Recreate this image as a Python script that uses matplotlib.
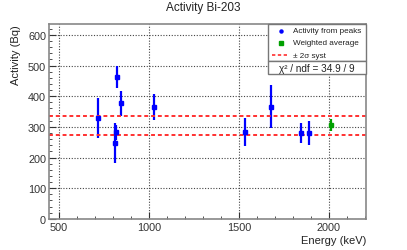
import numpy as np
import matplotlib
matplotlib.use("Agg")
import matplotlib.pyplot as plt
from matplotlib.patches import Rectangle
from matplotlib.lines import Line2D
from matplotlib.ticker import MultipleLocator

plt.rcParams['font.family'] = ['Liberation Sans', 'DejaVu Sans']

# peak activities
energy = [720, 815, 819, 824, 846, 1030, 1533, 1676, 1843, 1889]
activity = [330, 248, 282, 463, 377, 365, 282, 366, 280, 280]
act_err = [65, 65, 25, 35, 40, 42, 46, 70, 33, 38]

# weighted average
avg_energy = [2010]
avg_activity = [306]
avg_err = [20]

syst_band = [275, 336]
legend_labels = ['Activity from peaks', 'Weighted average', '\u00b1 2\u03c3 syst']
chi2_label = "\u03c7\u00b2 / ndf = 34.9 / 9"

fig = plt.figure(figsize=(4.07, 2.51), dpi=100)
ax = fig.add_axes([0.120, 0.124, 0.779, 0.776])

ax.errorbar(energy, activity, yerr=act_err, fmt='s', color='#0000ff', ms=2.5,
            elinewidth=1.6, capsize=0)
ax.errorbar(avg_energy, avg_activity, yerr=avg_err, fmt='s', color='#00a000', ms=2.5,
            elinewidth=1.6, capsize=0)
for v in syst_band:
    ax.axhline(v, color='#ff3030', ls=(0, (2, 1.5)), lw=1.4)

ax.set_xlim(445, 2205)
ax.set_ylim(0, 635)
ax.xaxis.set_major_locator(MultipleLocator(500))
ax.xaxis.set_minor_locator(MultipleLocator(100))
ax.yaxis.set_major_locator(MultipleLocator(100))
ax.yaxis.set_minor_locator(MultipleLocator(20))
ax.tick_params(which='both', direction='in', labelsize=7.8, colors='#333333', pad=2)
ax.tick_params(which='major', length=5)
ax.tick_params(which='minor', length=2.5)
ax.grid(True, which='major', ls=(0, (1, 1.5)), color='#444444', lw=0.8)
for s in ax.spines.values():
    s.set_color('#888888')
    s.set_linewidth(1.2)

fig.text(0.5, 0.97, 'Activity Bi-203', ha='center', va='center', fontsize=8.5, color='#222222')
fig.text(0.899, 0.04, 'Energy (keV)', ha='right', va='center', fontsize=8, color='#222222')
fig.text(0.039, 0.90, 'Activity (Bq)', ha='center', va='top', rotation=90, fontsize=8, color='#222222')

# legend box drawn by hand, ROOT style
fig.patches.append(Rectangle((0.658, 0.753), 0.241, 0.147, transform=fig.transFigure,
                             facecolor='white', edgecolor='#777777', lw=1.0, zorder=5))
fig.patches.append(Rectangle((0.658, 0.701), 0.241, 0.052, transform=fig.transFigure,
                             facecolor='white', edgecolor='#777777', lw=1.0, zorder=5))
rows = [0.873, 0.826, 0.776]
fig.add_artist(Line2D([0.690], [rows[0]], transform=fig.transFigure, ls='none',
                      marker='o', color='#0000ff', ms=2.2, zorder=6))
fig.add_artist(Line2D([0.690], [rows[1]], transform=fig.transFigure, ls='none',
                      marker='s', color='#00a000', ms=2.5, zorder=6))
fig.add_artist(Line2D([0.668, 0.705], [rows[2], rows[2]], transform=fig.transFigure,
                      color='#ff3030', ls=(0, (2, 1.5)), lw=1.2, zorder=6))
for lab, yy in zip(legend_labels, rows):
    fig.text(0.719, yy, lab, ha='left', va='center', fontsize=5.9, color='#222222', zorder=7)
fig.text(0.779, 0.726, chi2_label, ha='center', va='center', fontsize=7.2, color='#222222', zorder=7)

fig.savefig('out.png', dpi=100)
